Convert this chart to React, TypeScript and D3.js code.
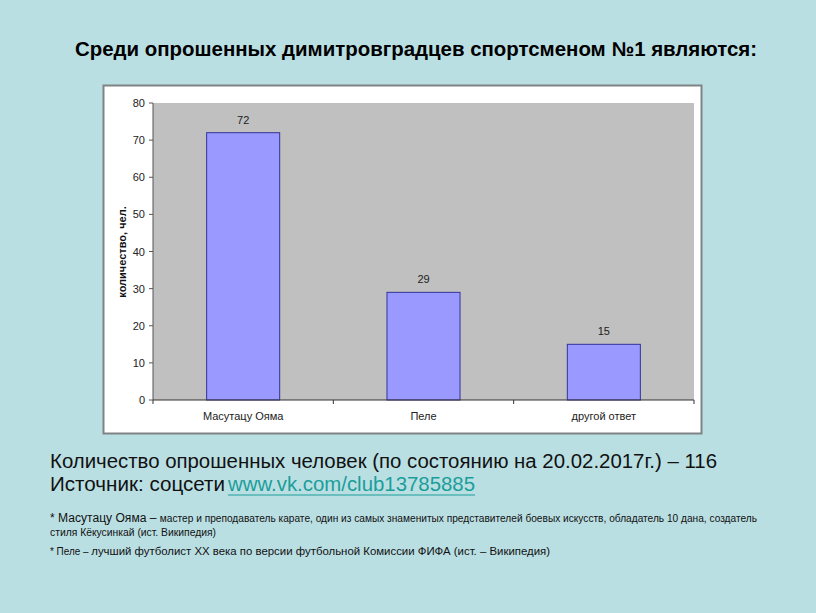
import React from "react";
import * as d3 from "d3";

const categories = ["Масутацу  Ояма", "Пеле", "другой ответ"];
const values = [72, 29, 15];
const yTicks = [0, 10, 20, 30, 40, 50, 60, 70, 80];

const W = 816;
const H = 613;

export default function App() {
  const plot = { left: 153, right: 694, top: 103, bottom: 400 };
  const x = d3
    .scaleBand<string>()
    .domain(categories)
    .range([plot.left, plot.right])
    .paddingInner(0.595)
    .paddingOuter(0.2975);
  const xb = d3.scaleBand<string>().domain(categories).range([plot.left, plot.right]);
  const y = d3.scaleLinear().domain([0, 80]).range([plot.bottom, plot.top]);
  const font = "Liberation Sans, Arial, sans-serif";
  const boundaries = [plot.left, ...categories.map((c) => (xb(c) as number) + xb.bandwidth())];

  return (
    <svg
      width={W}
      height={H}
      style={{ position: "absolute", left: 0, top: 0, display: "block" }}
      fontFamily={font}
    >
      <rect x={0} y={0} width={W} height={H} fill="#badfe3" />
      <text
        x={416}
        y={56}
        textAnchor="middle"
        fontSize={20}
        fontWeight="bold"
        fill="#000"
        textLength={682}
        lengthAdjust="spacingAndGlyphs"
      >
        Среди опрошенных димитровградцев спортсменом №1 являются:
      </text>

      {/* chart frame */}
      <rect x={103.5} y={85.5} width={598} height={348} fill="#ffffff" stroke="#7f8384" strokeWidth={2} />
      <rect
        x={plot.left}
        y={plot.top}
        width={plot.right - plot.left}
        height={plot.bottom - plot.top}
        fill="#c0c0c0"
      />
      {/* bars */}
      {categories.map((c, i) => (
        <g key={c}>
          <rect
            x={x(c)}
            y={y(values[i])}
            width={x.bandwidth()}
            height={plot.bottom - y(values[i])}
            fill="#9999ff"
            stroke="#333399"
            strokeWidth={1}
          />
          <text
            x={(x(c) as number) + x.bandwidth() / 2}
            y={y(values[i]) - 9}
            textAnchor="middle"
            fontSize={11}
            fill="#222"
          >
            {values[i]}
          </text>
          <text
            x={(xb(c) as number) + xb.bandwidth() / 2}
            y={420}
            textAnchor="middle"
            fontSize={11}
            fill="#222"
          >
            {c}
          </text>
        </g>
      ))}
      {/* y axis */}
      <line x1={plot.left} x2={plot.left} y1={plot.top} y2={plot.bottom} stroke="#555" strokeWidth={1} />
      {yTicks.map((t) => (
        <g key={t}>
          <line x1={plot.left - 4} x2={plot.left} y1={y(t)} y2={y(t)} stroke="#555" />
          <text x={plot.left - 8} y={y(t) + 4} textAnchor="end" fontSize={11} fill="#222">
            {t}
          </text>
        </g>
      ))}
      {/* x axis */}
      <line x1={plot.left} x2={plot.right} y1={plot.bottom} y2={plot.bottom} stroke="#333" strokeWidth={1} />
      {boundaries.map((b, i) => (
        <line key={i} x1={b} x2={b} y1={plot.bottom} y2={plot.bottom + 4} stroke="#333" />
      ))}
      <text
        transform={`translate(126, 252) rotate(-90)`}
        textAnchor="middle"
        fontSize={11}
        fontWeight="bold"
        fill="#111"
      >
        количество,  чел.
      </text>

      {/* text below */}
      <text x={50} y={468} fontSize={20} fill="#111" textLength={667} lengthAdjust="spacingAndGlyphs">
        Количество опрошенных человек (по состоянию на 20.02.2017г.) – 116
      </text>
      <text x={50} y={491} fontSize={20.5} fill="#111" textLength={175} lengthAdjust="spacingAndGlyphs">
        Источник: соцсети
      </text>
      <text x={228} y={491} fontSize={20.5} fill="#1a9e9a" textLength={247} lengthAdjust="spacingAndGlyphs">
        www.vk.com/club13785885
      </text>
      <line x1={228} x2={475} y1={495} y2={495} stroke="#1a9e9a" strokeWidth={1.2} />
      <text x={50} y={522} fontSize={10.5} fill="#111" textLength={707} lengthAdjust="spacingAndGlyphs">
        <tspan fontSize={12.5}>* Масутацу Ояма – </tspan>
        мастер и преподаватель карате, один из самых знаменитых представителей боевых искусств, обладатель 10 дана, создатель
      </text>
      <text x={50} y={536} fontSize={10.5} fill="#111" textLength={166} lengthAdjust="spacingAndGlyphs">
        стиля Кёкусинкай (ист. Википедия)
      </text>
      <text x={50} y={555} fontSize={11.5} fill="#111" textLength={500} lengthAdjust="spacingAndGlyphs">
        <tspan fontSize={10}>* Пеле – </tspan>
        лучший  футболист  XX века по версии футбольной  Комиссии  ФИФА (ист. – Википедия)
      </text>
    </svg>
  );
}
